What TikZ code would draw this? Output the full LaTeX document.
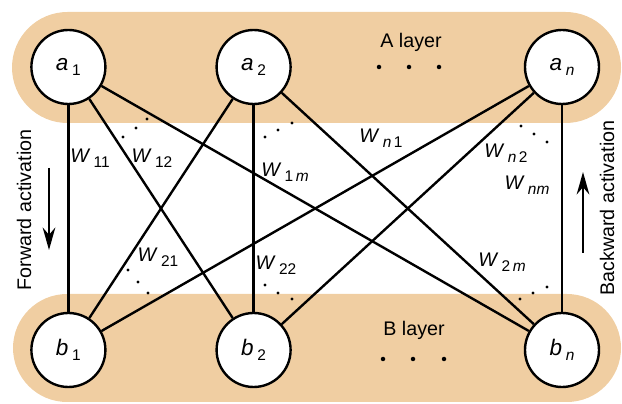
\documentclass[tikz,border=0pt]{standalone}
\usepackage{fontspec}
\setmainfont{Liberation Sans}
\usetikzlibrary{arrows.meta}
\definecolor{layertan}{RGB}{240,206,162}
\newcommand{\unitlbl}[2]{\textit{#1}\,\raisebox{-0.45ex}{\fontsize{11}{11}\selectfont #2}}

\begin{document}
\begin{tikzpicture}[>={Stealth[length=16pt,width=9pt]}, every node/.style={font=\fontsize{14}{14}\selectfont},
  unit/.style={circle, draw, line width=1.7pt, fill=white, minimum size=1.85cm, inner sep=0pt, font=\fontsize{16}{16}\selectfont},
  link/.style={line width=1.7pt},
  wlbl/.style={inner sep=0pt}]
  \useasboundingbox (0,0) rectangle (15.55,10.1);
  
  \fill[layertan, rounded corners=1.3875cm] (0.3,7.025) rectangle (15.525,9.8);
  \fill[layertan, rounded corners=1.35cm] (0.325,0.05) rectangle (15.525,2.75);
  
  \node[unit] (a1) at (1.71,8.425) {\unitlbl{a}{1}};
  \node[unit] (a2) at (6.34,8.425) {\unitlbl{a}{2}};
  \node[unit] (an) at (14.05,8.425) {\unitlbl{a}{\textit{n}}};
  \node[unit] (b1) at (1.71,1.35) {\unitlbl{b}{1}};
  \node[unit] (b2) at (6.34,1.35) {\unitlbl{b}{2}};
  \node[unit] (bn) at (14.05,1.35) {\unitlbl{b}{\textit{n}}};
  \node (Alayer) at (10.275,9.05) {A layer};
  \node (Blayer) at (10.35,1.85) {B layer};
  
  \draw[link] (a1) -- (b1);
  \draw[link] (a1) -- (b2);
  \draw[link] (a1) -- (bn);
  \draw[link] (a2) -- (b1);
  \draw[link] (a2) -- (b2);
  \draw[link] (a2) -- (bn);
  \draw[link] (an) -- (b1);
  \draw[link] (an) -- (b2);
  \draw[link] (an) -- (bn);
  
  \node[wlbl] (w11) at (2.25,6.15) {\unitlbl{W}{11}};
  \node[wlbl] (w12) at (3.8,6.15) {\unitlbl{W}{12}};
  \node[wlbl] (w1m) at (7.125,5.8) {\unitlbl{W}{1\,\textit{m}}};
  \node[wlbl] (wn1) at (9.525,6.65) {\unitlbl{W}{\textit{n}\,1}};
  \node[wlbl] (wn2) at (12.65,6.275) {\unitlbl{W}{\textit{n}\,2}};
  \node[wlbl] (wnm) at (13.175,5.475) {\unitlbl{W}{\textit{nm}}};
  \node[wlbl] (w21) at (3.95,3.675) {\unitlbl{W}{21}};
  \node[wlbl] (w22) at (6.9,3.475) {\unitlbl{W}{22}};
  \node[wlbl] (w2m) at (12.55,3.55) {\unitlbl{W}{2\,\textit{m}}};
  
  % small dots between the links
  \foreach \x/\y in {3.075/6.675, 3.4/6.9, 3.675/7.125, 6.625/6.675, 6.95/6.85, 7.3/7.025,
      13.025/6.95, 13.35/6.75, 13.675/6.55, 3.2/3.35, 3.45/3.05, 3.7/2.775,
      6.625/2.975, 6.95/2.775, 7.3/2.625, 13.0/2.625, 13.325/2.775, 13.675/2.925}
    \fill (\x,\y) circle (1.2pt);
  % dots of the layers
  \foreach \x/\y in {9.475/8.425, 10.225/8.425, 10.975/8.425, 9.575/1.125, 10.325/1.125, 11.1/1.125}
    \fill (\x,\y) circle (1.6pt);
  
  \node[rotate=90] (fwd) at (0.6,4.85) {Forward activation};
  \node[rotate=90] (bwd) at (15.175,4.9) {Backward activation};
  \coordinate (fwdtop) at (1.225,5.9);
  \coordinate (fwdbot) at (1.225,3.85);
  \coordinate (bwdbot) at (14.575,3.775);
  \coordinate (bwdtop) at (14.575,5.8);
  \draw[->, line width=1.3pt] (fwdtop) -- (fwdbot);
  \draw[->, line width=1.3pt] (bwdbot) -- (bwdtop);
\end{tikzpicture}
\end{document}
